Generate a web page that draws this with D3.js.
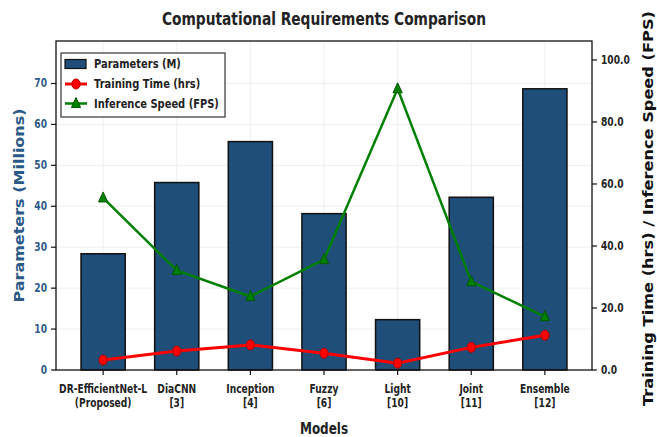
<!DOCTYPE html>
<html>
<head>
<meta charset="utf-8">
<script src="https://cdn.jsdelivr.net/npm/d3@7"></script>
<style>
  body { margin: 0; background: #fff; }
  svg { display: block; font-family: "DejaVu Sans", sans-serif; font-weight: bold; }
</style>
</head>
<body>
<div id="chart"></div>
<script>
// data
const models = ["DR-EfficientNet-L", "DiaCNN", "Inception", "Fuzzy", "Light", "Joint", "Ensemble"];
const refs = ["(Proposed)", "[3]", "[4]", "[6]", "[10]", "[11]", "[12]"];
const params = [28.4, 45.8, 55.8, 38.2, 12.3, 42.2, 68.7];
const trainTime = [3.2, 6.1, 8.1, 5.4, 2.2, 7.3, 11.2];
const fps = [55.5, 32.1, 23.7, 35.6, 90.7, 28.5, 17.2];
const leftTicks = [0, 10, 20, 30, 40, 50, 60, 70];
const rightTicks = [0, 20, 40, 60, 80, 100];

const W = 657, H = 437;
const plotL = 56, plotR = 592, plotT = 41, plotB = 370;
const sx = 0.8; // the picture's text is squeezed sideways

const barColor = "#1f4e79";
const blue = "#2c5a87";

const svg = d3.select("#chart").append("svg")
    .attr("width", W)
    .attr("height", H);

const x = d3.scaleLinear()
    .domain([-0.64, models.length - 1 + 0.64])
    .range([plotL, plotR]);

const yL = d3.scaleLinear()
    .domain([0, d3.max(params) * 1.17])
    .range([plotB, plotT]);

const yR = d3.scaleLinear()
    .domain([0, d3.max(fps) * 1.17])
    .range([plotB, plotT]);

// squeezed horizontal text
function hText(g, tx, ty, txt, size, anchor, fill, scale) {
    return g.append("text")
        .attr("transform", `translate(${tx},${ty}) scale(${scale || sx},1)`)
        .attr("text-anchor", anchor)
        .attr("font-size", size)
        .attr("fill", fill || "#222")
        .text(txt);
}

// grid
const grid = svg.append("g").attr("stroke", "#ebebeb").attr("stroke-width", 0.8);
grid.selectAll("line.h")
    .data(leftTicks.slice(1))
    .enter().append("line")
    .attr("x1", plotL).attr("x2", plotR)
    .attr("y1", d => yL(d)).attr("y2", d => yL(d));
grid.selectAll("line.v")
    .data(models)
    .enter().append("line")
    .attr("y1", plotT).attr("y2", plotB)
    .attr("x1", (d, i) => x(i)).attr("x2", (d, i) => x(i));

// bars
const bw = x(0.3) - x(0);
svg.selectAll("rect.bar")
    .data(params)
    .enter().append("rect")
    .attr("class", "bar")
    .attr("x", (d, i) => x(i) - bw)
    .attr("width", bw * 2)
    .attr("y", d => yL(d))
    .attr("height", d => plotB - yL(d))
    .attr("fill", barColor)
    .attr("stroke", "#111")
    .attr("stroke-width", 1.5);

// lines
const lineR = d3.line().x((d, i) => x(i)).y(d => yR(d));

svg.append("path")
    .datum(trainTime)
    .attr("d", lineR)
    .attr("fill", "none")
    .attr("stroke", "#ff0000")
    .attr("stroke-width", 3);

svg.append("path")
    .datum(fps)
    .attr("d", lineR)
    .attr("fill", "none")
    .attr("stroke", "#008000")
    .attr("stroke-width", 2.5);

svg.selectAll("ellipse.tt")
    .data(trainTime)
    .enter().append("ellipse")
    .attr("cx", (d, i) => x(i))
    .attr("cy", d => yR(d))
    .attr("rx", 4.2).attr("ry", 5)
    .attr("fill", "#ff0000")
    .attr("stroke", "#b00000")
    .attr("stroke-width", 1);

const tri = "M0,-6L4.6,4L-4.6,4Z";
svg.selectAll("path.fps")
    .data(fps)
    .enter().append("path")
    .attr("d", tri)
    .attr("transform", (d, i) => `translate(${x(i)},${yR(d)})`)
    .attr("fill", "#008000")
    .attr("stroke", "#005a00")
    .attr("stroke-width", 1);

// frame
svg.append("rect")
    .attr("x", plotL).attr("y", plotT)
    .attr("width", plotR - plotL).attr("height", plotB - plotT)
    .attr("fill", "none")
    .attr("stroke", "#111")
    .attr("stroke-width", 1.3);

// left axis
const gl = svg.append("g");
gl.selectAll("line")
    .data(leftTicks)
    .enter().append("line")
    .attr("x1", plotL - 5).attr("x2", plotL)
    .attr("y1", d => yL(d)).attr("y2", d => yL(d))
    .attr("stroke", "#111").attr("stroke-width", 1.2);
leftTicks.forEach(t => {
    hText(gl, plotL - 9, yL(t) + 4, t, 11.4, "end", blue);
});

// right axis
const gr = svg.append("g");
gr.selectAll("line")
    .data(rightTicks)
    .enter().append("line")
    .attr("x1", plotR).attr("x2", plotR + 5)
    .attr("y1", d => yR(d)).attr("y2", d => yR(d))
    .attr("stroke", "#111").attr("stroke-width", 1.2);
rightTicks.forEach(t => {
    hText(gr, plotR + 9, yR(t) + 4, t.toFixed(1), 11.4, "start", "#222");
});

// x axis
const gx = svg.append("g");
gx.selectAll("line")
    .data(models)
    .enter().append("line")
    .attr("x1", (d, i) => x(i)).attr("x2", (d, i) => x(i))
    .attr("y1", plotB).attr("y2", plotB + 5)
    .attr("stroke", "#111").attr("stroke-width", 1.2);
models.forEach((m, i) => {
    hText(gx, x(i), 393, m, 11.4, "middle");
    hText(gx, x(i), 406.5, refs[i], 11.4, "middle");
});

// titles
hText(svg, (plotL + plotR) / 2, 25, "Computational Requirements Comparison", 17, "middle", "#222", 0.81);
hText(svg, (plotL + plotR) / 2, 434, "Models", 16, "middle", "#222", 0.75);

svg.append("text")
    .attr("transform", `translate(24,${(plotT + plotB) / 2}) scale(0.9,1) rotate(-90)`)
    .attr("text-anchor", "middle")
    .attr("font-size", 16)
    .attr("fill", blue)
    .text("Parameters (Millions)");

svg.append("text")
    .attr("transform", `translate(653,${(plotT + plotB) / 2 + 3}) scale(0.9,1) rotate(-90)`)
    .attr("text-anchor", "middle")
    .attr("font-size", 16.2)
    .attr("fill", "#111")
    .text("Training Time (hrs) / Inference Speed (FPS)");

// legend
const lg = svg.append("g");
lg.append("rect")
    .attr("x", 61).attr("y", 53)
    .attr("width", 164).attr("height", 64)
    .attr("fill", "#fff")
    .attr("stroke", "#333")
    .attr("stroke-width", 1.2);

const items = ["Parameters (M)", "Training Time (hrs)", "Inference Speed (FPS)"];
const rowY = [64, 84, 103.5];
lg.append("rect")
    .attr("x", 65).attr("y", rowY[0] - 4.5)
    .attr("width", 21).attr("height", 9)
    .attr("fill", barColor).attr("stroke", "#111").attr("stroke-width", 1.2);
lg.append("line")
    .attr("x1", 65).attr("x2", 87).attr("y1", rowY[1]).attr("y2", rowY[1])
    .attr("stroke", "#ff0000").attr("stroke-width", 3);
lg.append("ellipse")
    .attr("cx", 76).attr("cy", rowY[1]).attr("rx", 4.2).attr("ry", 5)
    .attr("fill", "#ff0000").attr("stroke", "#b00000");
lg.append("line")
    .attr("x1", 65).attr("x2", 87).attr("y1", rowY[2]).attr("y2", rowY[2])
    .attr("stroke", "#008000").attr("stroke-width", 2.5);
lg.append("path")
    .attr("d", tri)
    .attr("transform", `translate(76,${rowY[2]})`)
    .attr("fill", "#008000").attr("stroke", "#005a00");
items.forEach((t, i) => {
    hText(lg, 94, rowY[i] + 4, t, 11.4, "start", "#222", 0.87);
});
</script>
</body>
</html>
